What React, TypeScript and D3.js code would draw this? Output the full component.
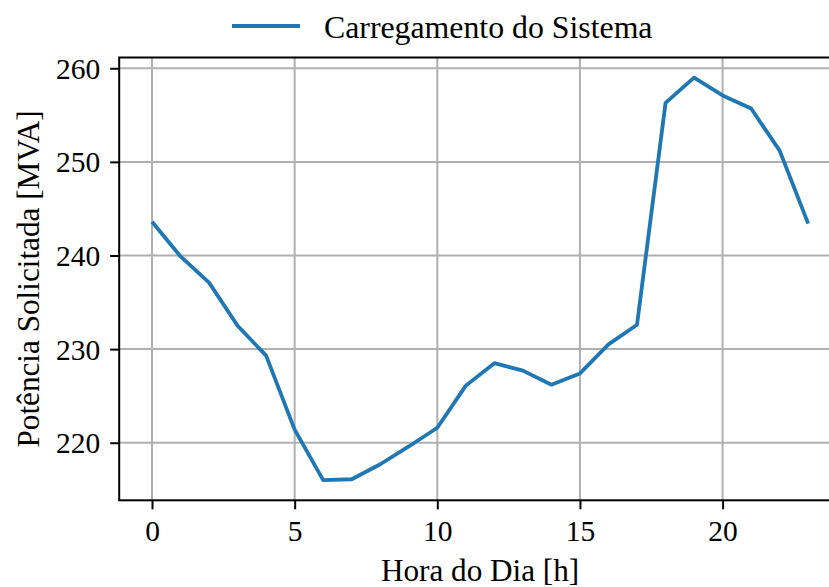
import * as d3 from 'd3'
import { useEffect, useRef } from 'react'

// hourly system loading
const hours = [0, 1, 2, 3, 4, 5, 6, 7, 8, 9, 10, 11, 12, 13, 14, 15, 16, 17, 18, 19, 20, 21, 22, 23]
const loadMVA = [243.6, 239.9, 237.1, 232.5, 229.3, 221.4, 216.0, 216.1, 217.7, 219.6, 221.6, 226.1,
  228.5, 227.7, 226.2, 227.4, 230.5, 232.6, 256.3, 259.0, 257.1, 255.7, 251.2, 243.4]
const xTicks = [0, 5, 10, 15, 20]
const yTicks = [220, 230, 240, 250, 260]
const seriesLabel = 'Carregamento do Sistema'
const xLabel = 'Hora do Dia [h]'
const yLabel = 'Potência Solicitada [MVA]'

const W = 829
const H = 587
const plot = { left: 119.2, right: 841, top: 57.5, bottom: 500.3 }
const FONT = '"Liberation Serif", "Times New Roman", serif'
const BLUE = '#1f77b4'

export default function App(){
  const svgRef = useRef<SVGSVGElement|null>(null)

  useEffect(()=>{
    const svg = d3.select(svgRef.current)
    svg.selectAll('*').remove()

    // matplotlib style 5% margins
    const xPad = (d3.max(hours)! - d3.min(hours)!) * 0.05
    const yPad = (d3.max(loadMVA)! - d3.min(loadMVA)!) * 0.05
    const x = d3.scaleLinear().domain([d3.min(hours)! - xPad, d3.max(hours)! + xPad]).range([plot.left, plot.right])
    const y = d3.scaleLinear().domain([d3.min(loadMVA)! - yPad, d3.max(loadMVA)! + yPad]).range([plot.bottom, plot.top])

    svg.append('rect').attr('width', W).attr('height', H).attr('fill', '#fff')

    // grid
    const grid = svg.append('g').attr('stroke', '#b0b0b0').attr('stroke-width', 2)
    grid.selectAll('line.v').data(xTicks).join('line')
      .attr('x1', (d: number)=>x(d)).attr('x2', (d: number)=>x(d))
      .attr('y1', plot.top).attr('y2', plot.bottom)
    grid.selectAll('line.h').data(yTicks).join('line')
      .attr('y1', (d: number)=>y(d)).attr('y2', (d: number)=>y(d))
      .attr('x1', plot.left).attr('x2', plot.right)

    // series
    const line = d3.line<number>().x((_, i)=>x(hours[i])).y(d=>y(d))
    svg.append('path').datum(loadMVA)
      .attr('d', line)
      .attr('fill', 'none')
      .attr('stroke', BLUE)
      .attr('stroke-width', 3.8)
      .attr('stroke-linejoin', 'round')

    // axes
    const xAxis = svg.append('g').attr('transform', `translate(0,${plot.bottom})`)
      .call(d3.axisBottom(x).tickValues(xTicks).tickSize(9).tickSizeOuter(0))
    const yAxis = svg.append('g').attr('transform', `translate(${plot.left},0)`)
      .call(d3.axisLeft(y).tickValues(yTicks).tickSize(9).tickSizeOuter(0))
    for(const ax of [xAxis, yAxis]){
      ax.select('.domain').remove()
      ax.selectAll('.tick line').attr('stroke', '#000').attr('stroke-width', 2)
      ax.selectAll('.tick text')
        .attr('font-family', FONT).attr('font-size', 29.5).attr('fill', '#000')
    }
    xAxis.selectAll('.tick text').attr('y', 40.7).attr('dy', null)
    yAxis.selectAll('.tick text').attr('x', -19).attr('dy', 10)

    // spines
    svg.append('rect')
      .attr('x', plot.left).attr('y', plot.top)
      .attr('width', plot.right - plot.left).attr('height', plot.bottom - plot.top)
      .attr('fill', 'none').attr('stroke', '#000').attr('stroke-width', 2)

    // labels
    svg.append('text').attr('x', (plot.left + plot.right)/2).attr('y', 581)
      .attr('text-anchor', 'middle').attr('font-family', FONT).attr('font-size', 31.2)
      .text(xLabel)
    svg.append('text')
      .attr('transform', `translate(39,${(plot.top + plot.bottom)/2}) rotate(-90)`)
      .attr('text-anchor', 'middle').attr('font-family', FONT).attr('font-size', 31.2)
      .text(yLabel)

    // legend
    svg.append('line').attr('x1', 232).attr('x2', 300).attr('y1', 26).attr('y2', 26)
      .attr('stroke', BLUE).attr('stroke-width', 3.8)
    svg.append('text').attr('x', 324).attr('y', 38)
      .attr('font-family', FONT).attr('font-size', 31.8)
      .text(seriesLabel)
  }, [])

  return (
    <div style={{ position: 'absolute', left: 0, top: 0 }}>
      <svg ref={svgRef} width={W} height={H} style={{ display: 'block', overflow: 'hidden' }}></svg>
    </div>
  )
}
